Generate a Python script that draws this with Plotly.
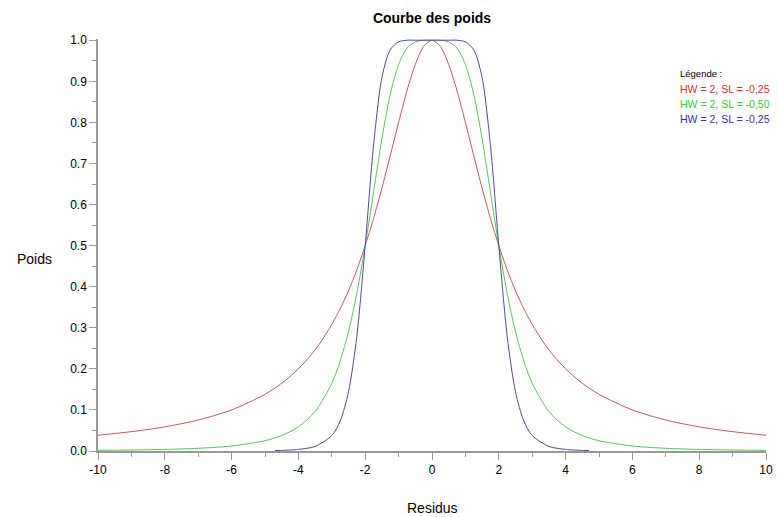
import plotly.graph_objects as go

# x positions (Residus) for red and green curves
x_rg = [-10, -9, -8, -7, -6, -5, -4.5, -4, -3.5, -3, -2.75, -2.5, -2.25, -2, -1.75, -1.5, -1.25, -1, -0.75, -0.5, -0.25,
        0, 0.25, 0.5, 0.75, 1, 1.25, 1.5, 1.75, 2, 2.25, 2.5, 2.75, 3, 3.5, 4, 4.5, 5, 6, 7, 8, 9, 10]
red_vals = [0.0385, 0.0471, 0.0588, 0.0755, 0.100, 0.138, 0.165, 0.200, 0.246, 0.308, 0.346, 0.390, 0.441, 0.500,
            0.566, 0.640, 0.719, 0.800, 0.877, 0.941, 0.985,
            1.000, 0.985, 0.941, 0.877, 0.800, 0.719, 0.640, 0.566, 0.500, 0.441, 0.390, 0.346, 0.308, 0.246,
            0.200, 0.165, 0.138, 0.100, 0.0755, 0.0588, 0.0471, 0.0385]
green_vals = [0.0016, 0.0024, 0.0039, 0.0066, 0.0122, 0.0250, 0.0376, 0.0588, 0.0963, 0.165, 0.219, 0.291, 0.384, 0.500,
              0.630, 0.760, 0.868, 0.941, 0.981, 0.996, 1.000,
              1.000, 1.000, 0.996, 0.981, 0.941, 0.868, 0.760, 0.630, 0.500, 0.384, 0.291, 0.219, 0.165, 0.0963,
              0.0588, 0.0376, 0.0250, 0.0122, 0.0066, 0.0039, 0.0024, 0.0016]
# blue curve (drawn only to about |x| = 4.7)
x_b = [-4.7, -4.5, -4, -3.5, -3, -2.75, -2.5, -2.25, -2, -1.75, -1.5, -1.25, -1, -0.75, -0.5, -0.25,
       0, 0.25, 0.5, 0.75, 1, 1.25, 1.5, 1.75, 2, 2.25, 2.5, 2.75, 3, 3.5, 4, 4.5, 4.7]
blue_vals = [0.0011, 0.0015, 0.0039, 0.0112, 0.0376, 0.0726, 0.144, 0.280, 0.500, 0.744, 0.909, 0.977, 0.996, 1.000,
             1.000, 1.000,
             1.000, 1.000, 1.000, 1.000, 0.996, 0.977, 0.909, 0.744, 0.500, 0.280, 0.144, 0.0726, 0.0376, 0.0112,
             0.0039, 0.0015, 0.0011]

legend_title = "Légende :"
legend_labels = ["HW = 2, SL = -0,25", "HW = 2, SL = -0,50", "HW = 2, SL = -0,25"]
line_colors = ["#c45a5a", "#5ac45a", "#4a4aa0"]
text_colors = ["#d03030", "#30d030", "#3030b0"]

y_ticks = [0.0, 0.1, 0.2, 0.3, 0.4, 0.5, 0.6, 0.7, 0.8, 0.9, 1.0]
x_ticks = [-10, -8, -6, -4, -2, 0, 2, 4, 6, 8, 10]

fig = go.Figure()
for xs, ys, c in [(x_rg, red_vals, line_colors[0]), (x_rg, green_vals, line_colors[1]), (x_b, blue_vals, line_colors[2])]:
    fig.add_trace(go.Scatter(x=xs, y=ys, mode="lines", line=dict(color=c, width=1, shape="spline", smoothing=0.8),
                             showlegend=False, hoverinfo="skip"))

font = "Liberation Sans, Arial, sans-serif"
axis_common = dict(showline=True, linecolor="#999999", linewidth=1.5, showgrid=False, zeroline=False,
                   ticks="outside", ticklen=7, tickcolor="#999999", tickwidth=1, automargin=False,
                   tickfont=dict(family=font, size=12, color="#000000"), mirror=False)

fig.update_xaxes(range=[-10, 10], tickvals=x_ticks, ticktext=[str(v) for v in x_ticks],
                 minor=dict(dtick=1, ticks="outside", ticklen=4, tickcolor="#999999"), **axis_common)
fig.update_yaxes(range=[0, 1.003], tickvals=y_ticks, ticktext=[f"{v:.1f}" for v in y_ticks],
                 minor=dict(dtick=0.05, ticks="outside", ticklen=4, tickcolor="#999999"), **axis_common)

annotations = [
    dict(text="Poids", xref="paper", yref="paper", x=-0.095, y=0.467, showarrow=False,
         font=dict(family=font, size=14, color="#000"), xanchor="center", yanchor="middle"),
    dict(text="Residus", xref="paper", yref="paper", x=0.5, y=-0.138, showarrow=False,
         font=dict(family=font, size=14, color="#000"), xanchor="center", yanchor="middle"),
    dict(text=legend_title, xref="paper", yref="paper", x=0.869, y=0.917, showarrow=False,
         font=dict(family=font, size=9.5, color="#000"), xanchor="left", yanchor="middle"),
]
for i, (lab, c) in enumerate(zip(legend_labels, text_colors)):
    annotations.append(dict(text=lab, xref="paper", yref="paper", x=0.869, y=0.879 - i * 0.0365, showarrow=False,
                            font=dict(family=font, size=10.5, color=c), xanchor="left", yanchor="middle"))

fig.update_layout(
    width=778, height=517,
    margin=dict(l=98, r=12, t=39, b=66),
    paper_bgcolor="white", plot_bgcolor="white",
    title=dict(text="<b>Courbe des poids</b>", x=0.5, xref="paper", y=1 - 18 / 517, yanchor="middle",
               font=dict(family=font, size=14, color="#000")),
    annotations=annotations,
)

fig.write_html("out.html", config={"displayModeBar": False},
               post_script="document.body.style.margin='0px';")
